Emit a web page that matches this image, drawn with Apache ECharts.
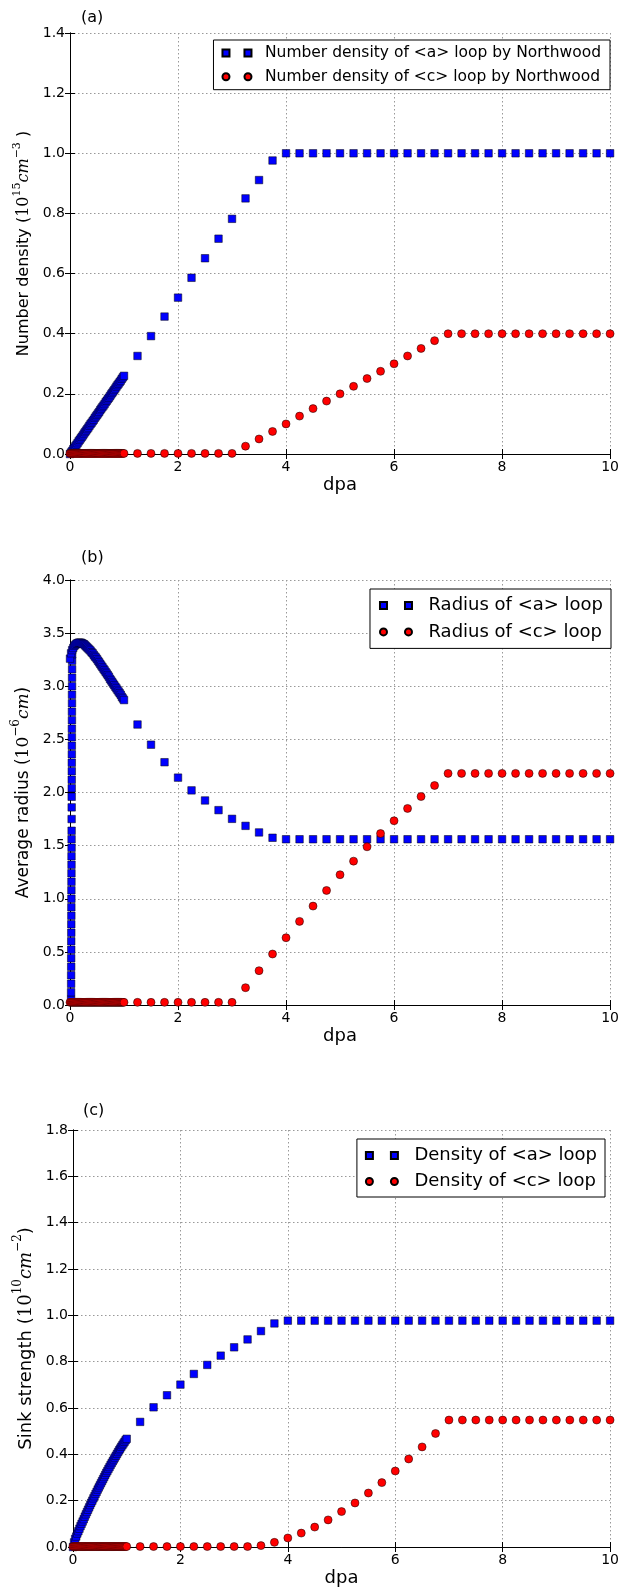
<!DOCTYPE html>
<html>
<head>
<meta charset="utf-8">
<script src="https://cdn.jsdelivr.net/npm/echarts@6/dist/echarts.min.js"></script>
<style>html,body{margin:0;padding:0;background:#fff}#c{width:622px;height:1589px}</style>
</head>
<body>
<div id="c"></div>
<script>
// ---------- data ----------
const dpaFine = [0,0.02,0.04,0.06,0.08,0.1,0.12,0.14,0.16,0.18,0.2,0.22,0.24,0.26,0.28,0.3,0.32,0.34,0.36,0.38,0.4,0.42,0.44,0.46,0.48,0.5,0.52,0.54,0.56,0.58,0.6,0.62,0.64,0.66,0.68,0.7,0.72,0.74,0.76,0.78,0.8,0.82,0.84,0.86,0.88,0.9,0.92,0.94,0.96,0.98,1];
const dpaCoarse = [1.25,1.5,1.75,2,2.25,2.5,2.75,3,3.25,3.5,3.75,4,4.25,4.5,4.75,5,5.25,5.5,5.75,6,6.25,6.5,6.75,7,7.25,7.5,7.75,8,8.25,8.5,8.75,9,9.25,9.5,9.75,10];

// (a) number density (1e15 cm^-3)
const aLoopNumberFine = [0.000,0.005,0.010,0.016,0.021,0.026,0.031,0.036,0.042,0.047,0.052,0.057,0.062,0.068,0.073,0.078,0.083,0.088,0.094,0.099,0.104,0.109,0.114,0.120,0.125,0.130,0.135,0.140,0.146,0.151,0.156,0.161,0.166,0.172,0.177,0.182,0.187,0.192,0.198,0.203,0.208,0.213,0.218,0.224,0.229,0.234,0.239,0.244,0.250,0.255,0.260];
const aLoopNumberCoarse = [0.326,0.392,0.457,0.520,0.586,0.651,0.716,0.782,0.850,0.911,0.976,1.000,1.000,1.000,1.000,1.000,1.000,1.000,1.000,1.000,1.000,1.000,1.000,1.000,1.000,1.000,1.000,1.000,1.000,1.000,1.000,1.000,1.000,1.000,1.000,1.000];
const cLoopNumberFine = [0.002,0.002,0.002,0.002,0.002,0.002,0.002,0.002,0.002,0.002,0.002,0.002,0.002,0.002,0.002,0.002,0.002,0.002,0.002,0.002,0.002,0.002,0.002,0.002,0.002,0.002,0.002,0.002,0.002,0.002,0.002,0.002,0.002,0.002,0.002,0.002,0.002,0.002,0.002,0.002,0.002,0.002,0.002,0.002,0.002,0.002,0.002,0.002,0.002,0.002,0.002];
const cLoopNumberCoarse = [0.002,0.002,0.002,0.002,0.002,0.002,0.002,0.002,0.026,0.050,0.075,0.100,0.126,0.151,0.176,0.200,0.225,0.251,0.275,0.300,0.326,0.351,0.377,0.400,0.400,0.400,0.400,0.400,0.400,0.400,0.400,0.400,0.400,0.400,0.400,0.400];

// (b) average radius (1e-6 cm)
const aRadiusEarlyDpa = [0.020,0.020,0.021,0.021,0.022,0.022,0.023,0.023,0.024,0.024,0.025,0.025,0.026,0.026,0.027,0.027,0.028,0.028,0.029,0.029,0.030,0.030,0.031,0.031,0.032,0.032,0.033,0.033,0.034,0.034,0.035,0.035,0.036,0.036,0.037,0.037,0.038,0.038,0.039,0.039,0.040];
const aRadiusEarly = [0.05,0.12,0.20,0.28,0.36,0.44,0.52,0.60,0.68,0.76,0.84,0.92,1.00,1.08,1.16,1.24,1.32,1.40,1.48,1.56,1.64,1.75,1.86,1.96,2.04,2.12,2.20,2.28,2.36,2.44,2.52,2.60,2.68,2.76,2.84,2.92,3.00,3.08,3.16,3.24,3.30];
const aRadiusFine = [3.26,3.31,3.34,3.36,3.38,3.39,3.40,3.405,3.41,3.41,3.41,3.405,3.40,3.395,3.385,3.375,3.365,3.355,3.345,3.335,3.32,3.31,3.295,3.28,3.27,3.255,3.24,3.225,3.21,3.195,3.18,3.165,3.15,3.135,3.12,3.105,3.09,3.07,3.055,3.04,3.025,3.01,2.995,2.98,2.965,2.95,2.935,2.92,2.90,2.885,2.87];
const aRadiusCoarse = [2.64,2.45,2.285,2.14,2.02,1.925,1.834,1.752,1.686,1.624,1.574,1.56,1.56,1.56,1.56,1.56,1.56,1.56,1.56,1.56,1.56,1.56,1.56,1.56,1.56,1.56,1.56,1.56,1.56,1.56,1.56,1.56,1.56,1.56,1.56,1.56];
const cRadiusFine = [0.025,0.025,0.025,0.025,0.025,0.025,0.025,0.025,0.025,0.025,0.025,0.025,0.025,0.025,0.025,0.025,0.025,0.025,0.025,0.025,0.025,0.025,0.025,0.025,0.025,0.025,0.025,0.025,0.025,0.025,0.025,0.025,0.025,0.025,0.025,0.025,0.025,0.025,0.025,0.025,0.025,0.025,0.025,0.025,0.025,0.025,0.025,0.025,0.025,0.025,0.025];
const cRadiusCoarse = [0.025,0.025,0.025,0.025,0.025,0.025,0.025,0.025,0.163,0.323,0.48,0.633,0.787,0.931,1.078,1.226,1.354,1.489,1.614,1.734,1.85,1.962,2.066,2.18,2.18,2.18,2.18,2.18,2.18,2.18,2.18,2.18,2.18,2.18,2.18,2.18];

// (c) sink strength (1e10 cm^-2)
const aSinkFine = [0.000,0.020,0.035,0.045,0.058,0.068,0.079,0.090,0.100,0.110,0.120,0.131,0.141,0.151,0.161,0.171,0.181,0.191,0.200,0.210,0.219,0.229,0.238,0.248,0.257,0.266,0.275,0.284,0.293,0.302,0.311,0.320,0.328,0.337,0.345,0.354,0.362,0.370,0.378,0.386,0.394,0.402,0.410,0.418,0.425,0.433,0.440,0.447,0.454,0.461,0.467];
const aSinkCoarse = [0.540,0.603,0.655,0.701,0.747,0.786,0.826,0.862,0.896,0.932,0.965,0.977,0.977,0.977,0.977,0.977,0.977,0.977,0.977,0.977,0.977,0.977,0.977,0.977,0.977,0.977,0.977,0.977,0.977,0.977,0.977,0.977,0.977,0.977,0.977,0.977];
const cSinkFine = [0.002,0.002,0.002,0.002,0.002,0.002,0.002,0.002,0.002,0.002,0.002,0.002,0.002,0.002,0.002,0.002,0.002,0.002,0.002,0.002,0.002,0.002,0.002,0.002,0.002,0.002,0.002,0.002,0.002,0.002,0.002,0.002,0.002,0.002,0.002,0.002,0.002,0.002,0.002,0.002,0.002,0.002,0.002,0.002,0.002,0.002,0.002,0.002,0.002,0.002,0.002];
const cSinkCoarse = [0.002,0.002,0.002,0.002,0.002,0.002,0.002,0.002,0.002,0.006,0.020,0.039,0.060,0.086,0.117,0.153,0.190,0.233,0.278,0.328,0.380,0.432,0.490,0.548,0.548,0.548,0.548,0.548,0.548,0.548,0.548,0.548,0.548,0.548,0.548,0.548];

const seriesNames = [
  ['Number density of <a> loop by Northwood', 'Number density of <c> loop by Northwood'],
  ['Radius of <a> loop', 'Radius of <c> loop'],
  ['Density of <a> loop', 'Density of <c> loop']
];
const panelLabels = ['(a)', '(b)', '(c)'];
const yTicks = [[0, 1.4, 0.2], [0, 4.0, 0.5], [0, 1.8, 0.2]];
const xTicks = [0, 10, 2];

// ---------- chart ----------
const SANS = 'DejaVu Sans';
const SERIF = 'DejaVu Serif';
function pairs(xs, ys) { return xs.map((x, i) => [x, ys[i]]); }

const grids = [
  {left: 70, width: 547, top: 33, height: 421},
  {left: 70, width: 547, top: 580, height: 425},
  {left: 73, width: 542, top: 1130, height: 417}
];
const yNames = [
  '{n|Number density (}{m|10}{s|15}{i|cm}{s|−3}{n| )}',
  '{n|Average radius (}{m|10}{s|−6}{i|cm}{n|)}',
  '{n|Sink strength (}{m|10}{s|10}{i|cm}{s|−2}{n|)}'
];
const yNameSize = [16, 17, 18];
const yNameGap = [33, 33, 32];

function richFor(F) {
  return {
    n: {fontFamily: SANS, fontSize: F, lineHeight: Math.round(F * 1.5), color: '#000'},
    m: {fontFamily: SERIF, fontSize: F, lineHeight: Math.round(F * 1.5), color: '#000'},
    i: {fontFamily: SERIF, fontStyle: 'italic', fontSize: F, lineHeight: Math.round(F * 1.5), color: '#000'},
    s: {fontFamily: SERIF, fontSize: Math.round(F * 0.68), lineHeight: Math.round(F * 0.6), verticalAlign: 'top', color: '#000'}
  };
}

const xAxes = [], yAxes = [];
grids.forEach((g, k) => {
  const tick = {inside: true, length: 5, lineStyle: {color: '#000', width: 1}};
  const line = {show: true, lineStyle: {color: '#000', width: 1}};
  xAxes.push({
    gridIndex: k, type: 'value', min: xTicks[0], max: xTicks[1], interval: xTicks[2],
    axisLine: line, axisTick: tick,
    axisLabel: {fontSize: 14, fontFamily: SANS, color: '#000', margin: 6},
    splitLine: {show: true, lineStyle: {color: '#999', width: 1, type: [1.5, 2.5]}},
    name: 'dpa', nameLocation: 'middle', nameGap: 22,
    nameTextStyle: {fontSize: 18, fontFamily: SANS, color: '#000'}
  });
  xAxes.push({
    gridIndex: k, type: 'value', position: 'top', min: xTicks[0], max: xTicks[1], interval: xTicks[2],
    axisLine: line, axisTick: tick, axisLabel: {show: false}, splitLine: {show: false}
  });
  yAxes.push({
    gridIndex: k, type: 'value', min: yTicks[k][0], max: yTicks[k][1], interval: yTicks[k][2],
    axisLine: line, axisTick: tick,
    axisLabel: {fontSize: 14, fontFamily: SANS, color: '#000', margin: 5, formatter: v => v.toFixed(1)},
    splitLine: {show: true, lineStyle: {color: '#999', width: 1, type: [1.5, 2.5]}},
    name: yNames[k], nameLocation: 'middle', nameGap: yNameGap[k],
    nameTextStyle: {fontSize: yNameSize[k], fontFamily: SANS, color: '#000', rich: richFor(yNameSize[k])}
  });
  yAxes.push({
    gridIndex: k, type: 'value', position: 'right', min: yTicks[k][0], max: yTicks[k][1], interval: yTicks[k][2],
    axisLine: line, axisTick: tick, axisLabel: {show: false}, splitLine: {show: false}
  });
});

const blueStyle = {color: '#0000ff', borderColor: '#000', borderWidth: 0.5, opacity: 1};
const redStyle = {color: '#ff0000', borderColor: '#000', borderWidth: 0.5, opacity: 1};
function sq(k, name, data) {
  return {type: 'scatter', name, xAxisIndex: 2 * k, yAxisIndex: 2 * k, symbol: 'rect', symbolSize: 7.5,
    itemStyle: blueStyle, data, animation: false, z: 2, emphasis: {disabled: true}};
}
function ci(k, name, data) {
  return {type: 'scatter', name, xAxisIndex: 2 * k, yAxisIndex: 2 * k, symbol: 'circle', symbolSize: 8,
    itemStyle: redStyle, data, animation: false, z: 3, emphasis: {disabled: true}};
}

const series = [
  sq(0, seriesNames[0][0], pairs(dpaFine, aLoopNumberFine).concat(pairs(dpaCoarse, aLoopNumberCoarse))),
  ci(0, seriesNames[0][1], pairs(dpaFine, cLoopNumberFine).concat(pairs(dpaCoarse, cLoopNumberCoarse))),
  sq(1, seriesNames[1][0], pairs(aRadiusEarlyDpa, aRadiusEarly).concat(pairs(dpaFine, aRadiusFine), pairs(dpaCoarse, aRadiusCoarse))),
  ci(1, seriesNames[1][1], pairs(dpaFine, cRadiusFine).concat(pairs(dpaCoarse, cRadiusCoarse))),
  sq(2, seriesNames[2][0], pairs(dpaFine, aSinkFine).concat(pairs(dpaCoarse, aSinkCoarse))),
  ci(2, seriesNames[2][1], pairs(dpaFine, cSinkFine).concat(pairs(dpaCoarse, cSinkCoarse)))
];

function sqIcon(gap) { return 'path://M0,0h7v7h-7z M' + gap + ',0h7v7h-7z'; }
function ciIcon(gap) {
  return 'path://M0,3.5A3.5,3.5,0,1,1,7,3.5A3.5,3.5,0,1,1,0,3.5Z M' + gap + ',3.5A3.5,3.5,0,1,1,' + (gap + 7) + ',3.5A3.5,3.5,0,1,1,' + gap + ',3.5Z';
}
const legendCfg = [
  {right: 12, top: 40, gap: 22, font: 15.5, lh: 18, itemGap: 5.7, pad: [4, 9, 4, 8], tpad: 8.5},
  {right: 11, top: 589, gap: 25, font: 18, lh: 21, itemGap: 5.4, pad: [6, 8, 6, 9], tpad: 11.5},
  {right: 17, top: 1139, gap: 25, font: 18, lh: 21, itemGap: 5, pad: [6, 8, 5, 8], tpad: 11.5}
];
const legends = legendCfg.map((c, k) => ({
  orient: 'vertical', right: c.right, top: c.top, padding: c.pad, itemGap: c.itemGap,
  itemWidth: c.gap + 7, itemHeight: 7, selectedMode: false,
  borderColor: '#000', borderWidth: 1, backgroundColor: '#fff', borderRadius: 0,
  textStyle: {fontSize: c.font, fontFamily: SANS, color: '#000', lineHeight: c.lh, padding: [0, 0, 0, c.tpad]},
  data: [
    {name: seriesNames[k][0], icon: sqIcon(c.gap)},
    {name: seriesNames[k][1], icon: ciIcon(c.gap)}
  ]
}));

const titles = panelLabels.map((t, k) => ({
  text: t, left: [81, 81, 83][k], top: [10, 550, 1103][k], padding: 0,
  textStyle: {fontSize: 16, fontWeight: 'normal', fontFamily: SANS, color: '#000'}
}));

const chart = echarts.init(document.getElementById('c'), null, {renderer: 'canvas'});
chart.setOption({
  animation: false,
  backgroundColor: '#fff',
  title: titles,
  legend: legends,
  grid: grids,
  xAxis: xAxes,
  yAxis: yAxes,
  series
});
</script>
</body>
</html>
